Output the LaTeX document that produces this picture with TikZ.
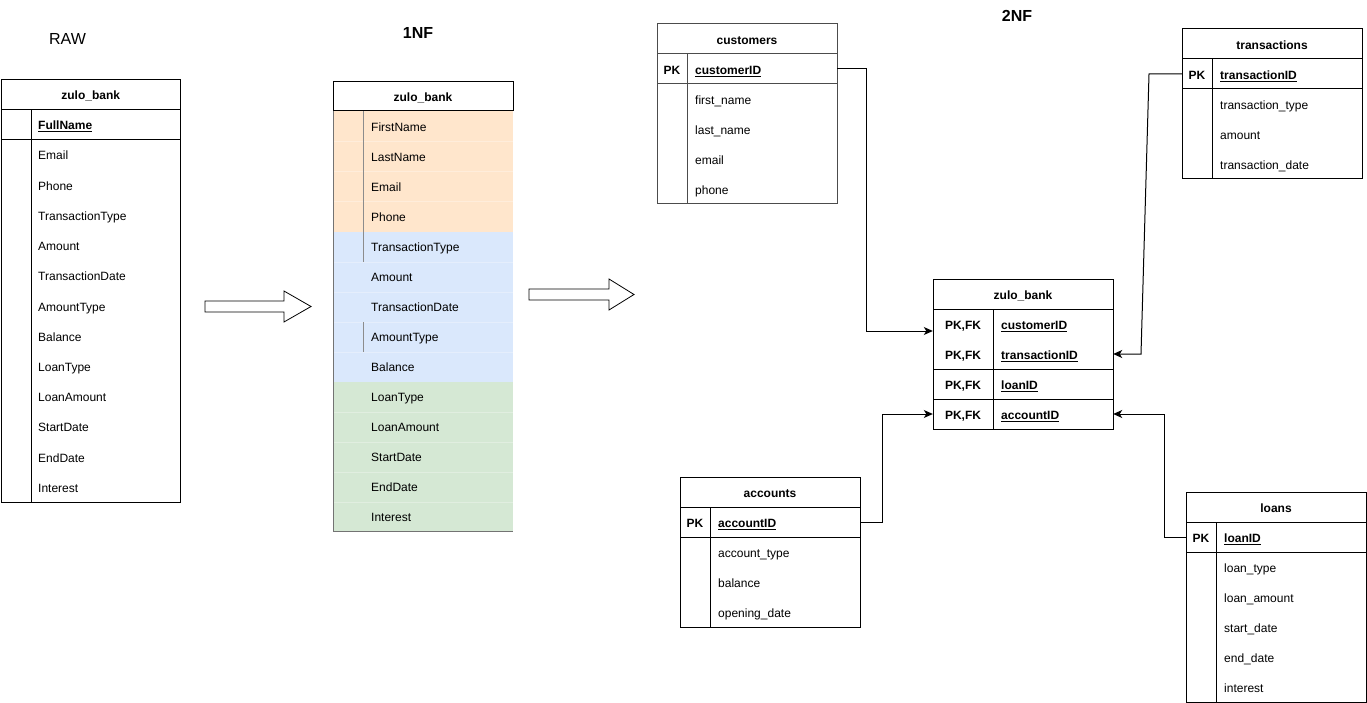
\documentclass[tikz,border=0pt]{standalone}
\usepackage{fontspec}
\setmainfont{Liberation Sans}
\usetikzlibrary{arrows.meta}
\definecolor{nfOrange}{HTML}{FFE6CC}
\definecolor{nfBlue}{HTML}{DAE8FC}
\definecolor{nfGreen}{HTML}{D5E8D4}
\begin{document}
\begin{tikzpicture}[x=1pt,y=-1pt,
  tbl/.style={draw=black, line width=1pt},
  stage/.style={font=\fontsize{16}{19}\selectfont, inner sep=0pt},
  title/.style={font=\bfseries\fontsize{12}{14}\selectfont, inner sep=0pt, text height=10.8pt, text depth=0pt},
  fld/.style={anchor=west, font=\fontsize{12}{14}\selectfont, inner sep=0pt, text height=10.8pt, text depth=0pt},
  key/.style={font=\bfseries\fontsize{12}{14}\selectfont, inner sep=0pt, text height=10.8pt, text depth=0pt},
  rowbox/.style={minimum width=180pt, minimum height=30pt, inner sep=0pt},
  fk/.style={draw=black, line width=1pt, -{Stealth[length=9pt,width=8pt,inset=2.5pt]}},
  bigarrow/.style={draw=black, line width=0.8pt, fill=white}
]
\useasboundingbox (0,0) rectangle (1367,703);

% stage captions
\node[stage] (lbl-raw) at (67.5,38.5) {RAW};
\node[stage, font=\bfseries\fontsize{16}{19}\selectfont] (lbl-1nf) at (418,32.5) {1NF};
\node[stage, font=\bfseries\fontsize{16}{19}\selectfont] (lbl-2nf) at (1017,15.5) {2NF};

% ---------- RAW table ----------
\draw[tbl] (1,79.5) rectangle (180.5,502);
\draw[tbl] (1,109.5) -- (180.5,109.5);
\draw[tbl] (1,139.5) -- (180.5,139.5);
\draw[tbl] (31,109.5) -- (31,502);
\node[title] (raw-head) at (90.75,94.5) {zulo\_bank};
\node[rowbox] (raw-pk) at (90.75,124.5) {};
\node[fld] (raw-fullname) at (38,124.5) {\textbf{\underline{FullName}}};
\foreach \t [count=\i] in {Email,Phone,TransactionType,Amount,TransactionDate,AmountType,Balance,LoanType,LoanAmount,StartDate,EndDate,Interest}
  \node[fld] (raw-f\i) at (38,{139.5+30.2*(\i-0.5)}) {\t};

% ---------- 1NF table ----------
\fill[nfOrange] (333,111) rectangle (513,232);
\fill[nfBlue] (333,232) rectangle (513,382);
\fill[nfGreen] (333,382) rectangle (513,531);
\foreach \y in {141,171,201,262,292,322,352,412,442,472,502}
  \draw[white, opacity=0.3, line width=0.6pt] (333,\y) -- (513,\y);
\draw[black!45, line width=0.8pt] (363,111) -- (363,262);
\draw[black!45, line width=0.8pt] (363,322) -- (363,352);
\draw[black!55, line width=1pt] (333,111) -- (333,531) -- (513,531);
\draw[tbl, fill=white] (333,81.5) rectangle (513,111);
\node[title] (nf-head) at (423,96.25) {zulo\_bank};
\foreach \t [count=\i] in {FirstName,LastName,Email,Phone,TransactionType,Amount,TransactionDate,AmountType,Balance,LoanType,LoanAmount,StartDate,EndDate,Interest}
  \node[fld] (nf-f\i) at (371,{111+30*(\i-0.5)}) {\t};

% transition arrows
\draw[bigarrow] (205,301) -- (284,301) -- (284,291) -- (311,306.5) -- (284,322) -- (284,312) -- (205,312) -- cycle;
\draw[bigarrow] (529,289) -- (609,289) -- (609,279) -- (634,294.5) -- (609,310) -- (609,300) -- (529,300) -- cycle;

% ---------- customers ----------
\begin{scope}[tbl/.append style={draw=black!70}]
\draw[tbl] (657,24) rectangle (837,204);
\draw[tbl] (657,54) -- (837,54);
\draw[tbl] (657,84) -- (837,84);
\draw[tbl] (687,54) -- (687,204);
\end{scope}
\node[title] (cust-head) at (747,39) {customers};
\node[rowbox] (cust-pk) at (747,69) {};
\node[key] (cust-pkkey) at (672,69) {PK};
\node[fld] (cust-id) at (695,69) {\textbf{\underline{customerID}}};
\foreach \t [count=\i] in {first\_name,last\_name,email,phone}
  \node[fld] (cust-f\i) at (695,{84+30*(\i-0.5)}) {\t};

% ---------- transactions ----------
\draw[tbl] (1182,29) rectangle (1362,179);
\draw[tbl] (1182,59) -- (1362,59);
\draw[tbl] (1182,89) -- (1362,89);
\draw[tbl] (1212,59) -- (1212,179);
\node[title] (tr-head) at (1272,44) {transactions};
\node[rowbox] (tr-pk) at (1272,74) {};
\node[key] (tr-pkkey) at (1197,74) {PK};
\node[fld] (tr-id) at (1220,74) {\textbf{\underline{transactionID}}};
\foreach \t [count=\i] in {transaction\_type,amount,transaction\_date}
  \node[fld] (tr-f\i) at (1220,{89+30*(\i-0.5)}) {\t};

% ---------- zulo_bank (2NF) ----------
\draw[tbl] (933,279) rectangle (1113,429);
\draw[tbl] (933,309) -- (1113,309);
\draw[tbl] (933,369) -- (1113,369);
\draw[tbl] (933,399) -- (1113,399);
\draw[tbl] (993,309) -- (993,429);
\node[title] (zb-head) at (1023,294) {zulo\_bank};
\node[rowbox] (zb-cust) at (1023,324) {};
\node[rowbox] (zb-tran) at (1023,354) {};
\node[rowbox] (zb-loan) at (1023,384) {};
\node[rowbox] (zb-acc) at (1023,414) {};
\foreach \t [count=\i] in {customerID,transactionID,loanID,accountID} {
  \node[key] (zb-k\i) at (963,{309+30*(\i-0.5)}) {PK,FK};
  \node[fld] (zb-f\i) at (1001,{309+30*(\i-0.5)}) {\textbf{\underline{\t}}};
}

% ---------- accounts ----------
\draw[tbl] (680,477) rectangle (860,627);
\draw[tbl] (680,507) -- (860,507);
\draw[tbl] (680,537) -- (860,537);
\draw[tbl] (710,507) -- (710,627);
\node[title] (acc-head) at (770,492) {accounts};
\node[rowbox] (acc-pk) at (770,522) {};
\node[key] (acc-pkkey) at (695,522) {PK};
\node[fld] (acc-id) at (718,522) {\textbf{\underline{accountID}}};
\foreach \t [count=\i] in {account\_type,balance,opening\_date}
  \node[fld] (acc-f\i) at (718,{537+30*(\i-0.5)}) {\t};

% ---------- loans ----------
\draw[tbl] (1186,492) rectangle (1366,702);
\draw[tbl] (1186,522) -- (1366,522);
\draw[tbl] (1186,552) -- (1366,552);
\draw[tbl] (1216,522) -- (1216,702);
\node[title] (loan-head) at (1276,507) {loans};
\node[rowbox] (loan-pk) at (1276,537) {};
\node[key] (loan-pkkey) at (1201,537) {PK};
\node[fld] (loan-id) at (1224,537) {\textbf{\underline{loanID}}};
\foreach \t [count=\i] in {loan\_type,loan\_amount,start\_date,end\_date,interest}
  \node[fld] (loan-f\i) at (1224,{552+30*(\i-0.5)}) {\t};

% ---------- foreign-key connectors ----------
\draw[fk] (cust-pk.east) -- (866,69) |- ([yshift=-7pt]zb-cust.west);
\draw[fk] (tr-pk.west) -- (1149,74) -- (1141,354) -- (zb-tran.east);
\draw[fk] (acc-pk.east) -- (882,522) |- (zb-acc.west);
\draw[fk] (loan-pk.west) -- (1164,537) |- (zb-acc.east);
\end{tikzpicture}
\end{document}
